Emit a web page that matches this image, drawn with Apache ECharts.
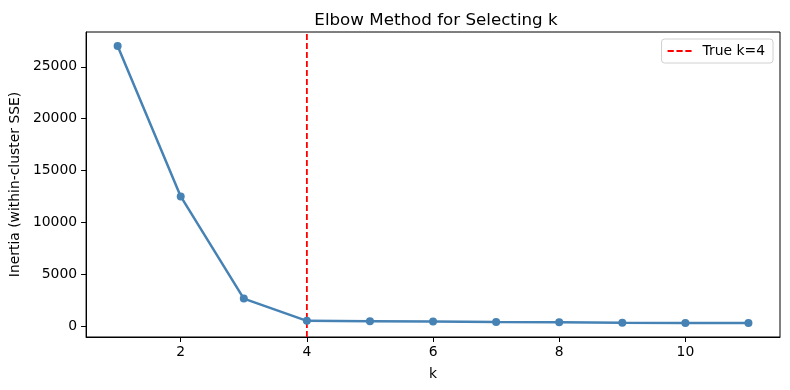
<!DOCTYPE html>
<html><head><meta charset="utf-8">
<script src="https://cdn.jsdelivr.net/npm/echarts@6/dist/echarts.min.js"></script>
<style>html,body{margin:0;padding:0;background:#fff}#c{width:790px;height:390px}</style>
</head><body><div id="c"></div>
<script>
const kValues = [1,2,3,4,5,6,7,8,9,10,11];
const inertia = [27000,12500,2650,510,480,440,390,360,320,310,290];
const trueK = 4;
const xTicks = [2,4,6,8,10];
const yTicks = [0,5000,10000,15000,20000,25000];
const yMin = -1050, yMax = 28350;

const chart = echarts.init(document.getElementById('c'));
const font = 'DejaVu Sans';
chart.setOption({
  animation:false,
  backgroundColor:'#fff',
  title:{text:'Elbow Method for Selecting k',left:431,top:7,textAlign:'center',
    textStyle:{fontFamily:font,fontSize:16.7,fontWeight:'normal',color:'#000'}},
  grid:{left:83,right:10,top:32,bottom:53,show:true,borderColor:'#000',borderWidth:1,backgroundColor:'transparent'},
  legend:{right:17,top:39,orient:'vertical',
    data:[{name:'True k=' + trueK,icon:'path://M0,0h7v2h-7z M10,0h7v2h-7z M20,0h7v2h-7z',itemStyle:{color:'#ff0000'}}],
    itemWidth:24,itemHeight:2,itemGap:4,padding:[5,8,5,6],
    borderColor:'#d0d0d0',borderWidth:1,borderRadius:3,backgroundColor:'rgba(255,255,255,0.8)',
    textStyle:{fontFamily:font,fontSize:13.9,color:'#000',padding:[0,0,0,6]}},
  xAxis:{type:'value',min:0.5,max:11.5,name:'k',nameLocation:'middle',nameGap:30,
    nameTextStyle:{fontFamily:font,fontSize:13.9,color:'#000'},
    axisLine:{show:true,onZero:false,lineStyle:{color:'#000'}},
    splitLine:{show:false},
    axisTick:{show:true,length:5,customValues:xTicks,lineStyle:{color:'#000'}},
    axisLabel:{customValues:xTicks,fontFamily:font,fontSize:13.9,color:'#000',margin:8}},
  yAxis:{type:'value',min:yMin,max:yMax,name:'Inertia (within-cluster SSE)',nameLocation:'middle',nameGap:59,
    nameTextStyle:{fontFamily:font,fontSize:13.9,color:'#000'},
    axisLine:{show:true,onZero:false,lineStyle:{color:'#000'}},
    splitLine:{show:false},
    axisTick:{show:true,length:5,customValues:yTicks,lineStyle:{color:'#000'}},
    axisLabel:{customValues:yTicks,formatter:v=>String(v),fontFamily:font,fontSize:13.9,color:'#000',margin:9}},
  series:[
    {type:'line',name:'inertia',data:kValues.map((k,i)=>[k,inertia[i]]),
      symbol:'circle',symbolSize:8,color:'#4682b4',
      lineStyle:{width:2.5,color:'#4682b4'},itemStyle:{color:'#4682b4'},z:3},
    {type:'line',name:'True k=' + trueK,data:[[trueK,yMin],[trueK,yMax]],
      symbol:'none',color:'#ff0000',lineStyle:{color:'#ff0000',width:1.8,type:[6,3]},z:2}
  ]
});
</script></body></html>
